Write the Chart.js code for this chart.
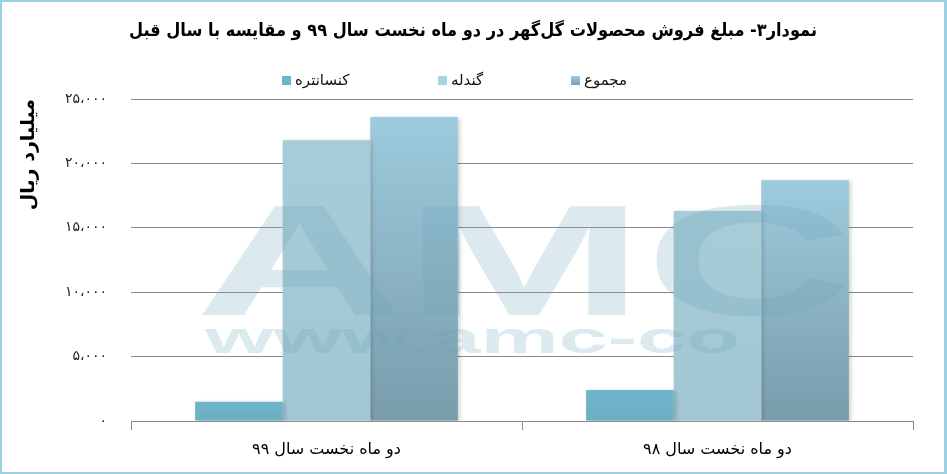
<!DOCTYPE html>
<html lang="fa">
<head>
<meta charset="UTF-8">
<title>Gol Gohar sales chart</title>
<script src="https://cdn.jsdelivr.net/npm/chart.js"></script>
<style>
    body { margin: 0; background: #fff; }
    #wrap {
        position: absolute; left: 0; top: 0;
        width: 947px; height: 474px;
        box-sizing: border-box;
        border-style: solid; border-color: #9dcfe2;
        border-width: 2px 3px 2px 2px;
        background: #fff;
    }
    #box { position: absolute; left: 0; top: 0; width: 942px; height: 470px; }
    .lg { position: absolute; top: 71px; font: 15px "DejaVu Sans", sans-serif; color: #111; white-space: nowrap; direction: rtl; }
    .sw { position: absolute; top: 76px; width: 9px; height: 9px; }
</style>
</head>
<body>
<div id="wrap">
    <div id="box"><canvas id="chart" dir="rtl"></canvas></div>
</div>
<div id="legend"></div>

<script>
    const categories = ['دو ماه نخست سال ۹۹', 'دو ماه نخست سال ۹۸'];
    const seriesNames = ['کنسانتره', 'گندله', 'مجموع'];
    const concentrate = [1500, 2400];
    const pellet = [21800, 16300];
    const total = [23600, 18700];
    const yMax = 25000;
    const yStep = 5000;

    const persianDigits = '۰۱۲۳۴۵۶۷۸۹';
    function toPersian(n) {
        const s = Math.round(n).toString().replace(/\B(?=(\d{3})+(?!\d))/g, '،');
        return s.replace(/\d/g, d => persianDigits[d]);
    }

    // legend (html, spaced like the original)
    const legendItems = [
        { name: seriesNames[0], x: 282, color: '#6cb4c9' },
        { name: seriesNames[1], x: 438, color: '#a9d3e0' },
        { name: seriesNames[2], x: 571, color: 'linear-gradient(#9ccbdd, #7d9fae)' }
    ];
    const legendEl = document.getElementById('legend');
    legendItems.forEach(it => {
        const sw = document.createElement('div');
        sw.className = 'sw';
        sw.style.left = it.x + 'px';
        sw.style.background = it.color;
        legendEl.appendChild(sw);
        const t = document.createElement('div');
        t.className = 'lg';
        t.style.left = (it.x + 13) + 'px';
        t.textContent = it.name;
        legendEl.appendChild(t);
    });

    function barGradient(top, bottom) {
        return ctx => {
            const chart = ctx.chart;
            if (!chart.chartArea || ctx.raw == null) return bottom;
            const y = chart.scales.y;
            const y0 = y.getPixelForValue(ctx.raw);
            const y1 = y.getPixelForValue(0);
            const g = chart.ctx.createLinearGradient(0, y0, 0, y1);
            g.addColorStop(0, top);
            g.addColorStop(1, bottom);
            return g;
        };
    }

    // faint AMC watermark over the plot
    const watermark = {
        id: 'watermark',
        afterDatasetsDraw(chart) {
            const c = chart.ctx;
            c.save();
            c.fillStyle = 'rgba(110,165,185,0.24)';
            c.direction = 'ltr';
            c.textAlign = 'left';
            c.translate(193, 313);
            c.scale(1.83, 1);
            c.font = 'bold 158px "Liberation Sans"';
            c.fillText('AMC', 0, 0);
            c.restore();
            c.save();
            c.fillStyle = 'rgba(110,165,185,0.24)';
            c.direction = 'ltr';
            c.textAlign = 'left';
            c.translate(203, 351);
            c.scale(2.0, 1);
            c.font = 'bold 44px "Liberation Sans"';
            c.fillText('www.amc-co', 0, 0);
            c.restore();
        }
    };

    const shadow = {
        id: 'barShadow',
        beforeDatasetsDraw(chart) {
            const c = chart.ctx;
            c.save();
            c.shadowColor = 'rgba(0,0,0,0.18)';
            c.shadowBlur = 4;
            c.shadowOffsetX = 2;
            c.shadowOffsetY = 1;
        },
        afterDatasetsDraw(chart) {
            chart.ctx.restore();
        }
    };

    new Chart(document.getElementById('chart'), {
        type: 'bar',
        data: {
            labels: categories,
            datasets: [
                { label: seriesNames[0], data: concentrate, backgroundColor: barGradient('#70b6ca', '#6aaec2') },
                { label: seriesNames[1], data: pellet, backgroundColor: barGradient('#a7ccd8', '#a2c7d2') },
                { label: seriesNames[2], data: total, backgroundColor: barGradient('#9dcbdd', '#799cab') }
            ]
        },
        options: {
            responsive: true,
            maintainAspectRatio: false,
            animation: false,
            layout: { padding: 0 },
            datasets: { bar: { categoryPercentage: 0.672, barPercentage: 1.0 } },
            plugins: {
                legend: { display: false },
                tooltip: { enabled: false },
                title: {
                    display: true,
                    text: 'نمودار۳- مبلغ فروش محصولات گل‌گهر در دو ماه نخست سال ۹۹ و مقایسه با سال قبل',
                    color: '#000',
                    font: { family: '"DejaVu Sans Condensed", "DejaVu Sans"', size: 18, weight: 'bold', lineHeight: 1.2 },
                    padding: { top: 19, bottom: 56.4 }
                }
            },
            scales: {
                x: {
                    afterFit: s => { s.height = 51; },
                    grid: { offset: true, drawOnChartArea: false, drawTicks: true, tickLength: 9, color: '#8a8a8a' },
                    border: { display: true, color: '#8a8a8a' },
                    ticks: { color: '#000', padding: 10, font: { family: '"DejaVu Sans"', size: 16 } }
                },
                y: {
                    min: 0,
                    max: yMax,
                    afterFit: s => { s.width = 129; },
                    ticks: {
                        stepSize: yStep,
                        padding: 24,
                        color: '#222',
                        font: { family: '"DejaVu Sans"', size: 14 },
                        callback: v => toPersian(v)
                    },
                    grid: { color: '#8a8a8a', drawTicks: false },
                    border: { display: false },
                    title: {
                        display: true,
                        text: 'میلیارد ریال',
                        align: 'end',
                        color: '#000',
                        font: { family: '"DejaVu Sans"', size: 19, weight: 'bold', lineHeight: 1.2 },
                        padding: { top: 16, bottom: 0 }
                    }
                },
                // empty right-hand axis, only keeps the blank margin on the right
                yRight: {
                    position: 'right',
                    min: 0,
                    max: yMax,
                    afterFit: s => { s.width = 31; },
                    ticks: { display: false },
                    grid: { display: false },
                    border: { display: false }
                }
            }
        },
        plugins: [shadow, watermark]
    });
</script>
</body>
</html>
